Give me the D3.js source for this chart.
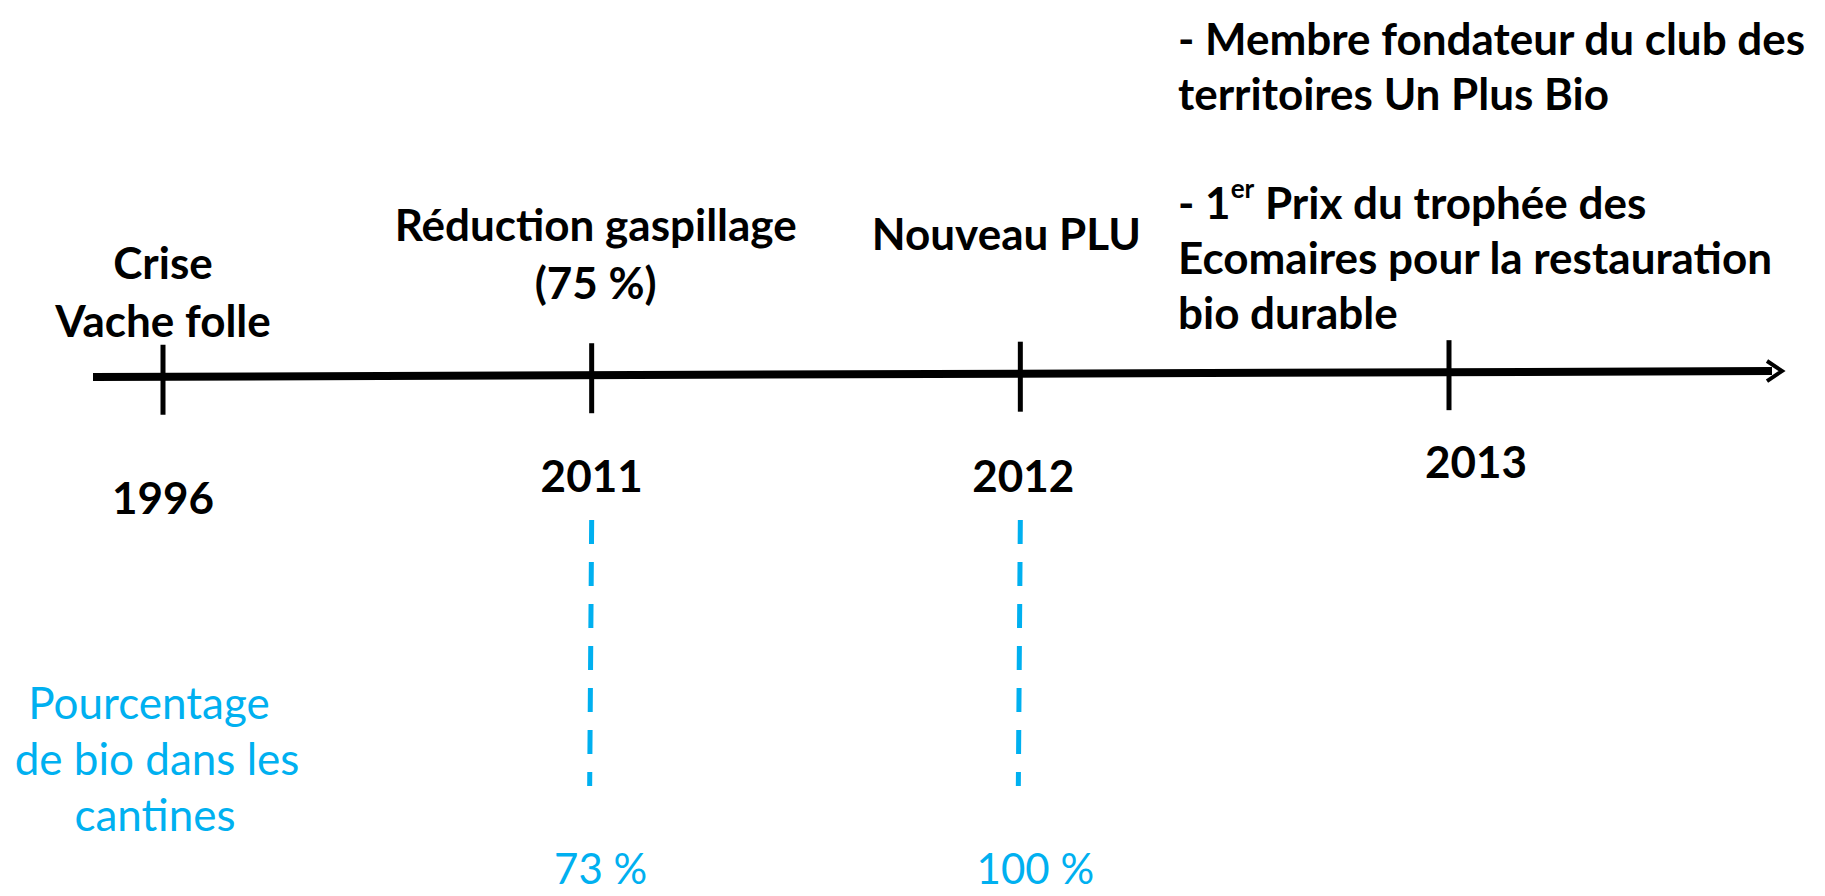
<!DOCTYPE html>
<html>
<head>
<meta charset="utf-8">
<script src="https://cdn.jsdelivr.net/npm/d3@7"></script>
<style>
  body { margin: 0; background: #fff; }
  svg { display: block; }
  text { font-family: Lato, "Open Sans", sans-serif; }
</style>
</head>
<body>
<div id="chart"></div>
<script>
// timeline content
const years = ["1996", "2011", "2012", "2013"];
const eventsAbove = [
    ["Crise", "Vache folle"],
    ["Réduction gaspillage", "(75 %)"],
    ["Nouveau PLU"],
    []
];
const notes2013 = [
    "- Membre fondateur du club des",
    "territoires Un Plus Bio",
    "",
    "- 1|er| Prix du trophée des",
    "Ecomaires pour la restauration",
    "bio durable"
];
const bioYears = ["2011", "2012"];
const bioValues = ["73 %", "100 %"];
const bioTitle = ["Pourcentage", "de bio dans les", "cantines"];

const width = 1825, height = 896;
const blue = "#00b0f0";

const svg = d3.select("#chart").append("svg")
    .attr("width", width)
    .attr("height", height);

svg.append("rect").attr("width", width).attr("height", height).attr("fill", "#fff");

const x = d3.scalePoint().domain(years).range([163, 1449]);

// axis drifts up a little to the right, as in the original slide
const axisY = d3.scaleLinear().domain([93, 1778]).range([377, 371]);

// main line + arrow head
svg.append("line")
    .attr("x1", 93).attr("y1", axisY(93))
    .attr("x2", 1772).attr("y2", axisY(1772))
    .attr("stroke", "#000")
    .attr("stroke-width", 8);

svg.append("path")
    .attr("d", `M1767,${axisY(1767) - 10} L1782,${axisY(1782)} L1767,${axisY(1767) + 10}`)
    .attr("fill", "none")
    .attr("stroke", "#000")
    .attr("stroke-width", 4);

// ticks
svg.selectAll(".tick")
    .data(years)
    .enter()
    .append("line")
    .attr("class", "tick")
    .attr("x1", d => x(d)).attr("x2", d => x(d))
    .attr("y1", d => axisY(x(d)) - 32)
    .attr("y2", d => axisY(x(d)) + 38)
    .attr("stroke", "#000")
    .attr("stroke-width", 5);

// year labels (they sit at slightly different heights)
const yearLabelY = [497, 475, 475, 461];
svg.selectAll(".year")
    .data(years)
    .enter()
    .append("text")
    .attr("class", "year")
    .attr("x", (d, i) => x(d) + [0, 0, 3, 27][i])
    .attr("y", (d, i) => yearLabelY[i])
    .attr("text-anchor", "middle")
    .attr("dominant-baseline", "central")
    .attr("font-size", 44)
    .attr("font-weight", "bold")
    .text(d => d);

// event labels above the line
const eventTopY = [262, 224, 233, 0];
const eventDx = [0, 4, -14, 0];
eventsAbove.forEach((lines, i) => {
    svg.append("g")
        .selectAll("text")
        .data(lines)
        .enter()
        .append("text")
        .attr("x", x(years[i]) + eventDx[i])
        .attr("y", (d, j) => eventTopY[i] + j * 58)
        .attr("text-anchor", "middle")
        .attr("dominant-baseline", "central")
        .attr("font-size", 44)
        .attr("font-weight", "bold")
        .text(d => d);
});

// 2013 notes block
const notes = svg.append("g");
notes2013.forEach((line, i) => {
    const t = notes.append("text")
        .attr("x", 1178)
        .attr("y", 38 + i * 54.8)
        .attr("dominant-baseline", "central")
        .attr("font-size", 44)
        .attr("font-weight", "bold");
    line.split("|").forEach((part, k) => {
        if (k % 2 === 1) {
            t.append("tspan").attr("font-size", 26).attr("dy", -14).text(part);
        } else {
            t.append("tspan").attr("dy", k ? 14 : 0).text(part);
        }
    });
});

// organic share in school canteens
svg.selectAll(".bio-line")
    .data(bioYears)
    .enter()
    .append("line")
    .attr("class", "bio-line")
    .attr("x1", d => x(d)).attr("x2", d => x(d) - 2)
    .attr("y1", 520).attr("y2", 786)
    .attr("stroke", blue)
    .attr("stroke-width", 5)
    .attr("stroke-dasharray", "24 18");

svg.selectAll(".bio-value")
    .data(bioValues)
    .enter()
    .append("text")
    .attr("class", "bio-value")
    .attr("x", (d, i) => x(bioYears[i]) + [9, 15][i])
    .attr("y", 868)
    .attr("text-anchor", "middle")
    .attr("dominant-baseline", "central")
    .attr("font-size", 42)
    .attr("fill", blue)
    .text(d => d);

svg.append("g")
    .selectAll("text")
    .data(bioTitle)
    .enter()
    .append("text")
    .attr("x", (d, i) => [149, 157, 155][i])
    .attr("y", (d, i) => 702 + i * 56)
    .attr("text-anchor", "middle")
    .attr("dominant-baseline", "central")
    .attr("font-size", 44)
    .attr("fill", blue)
    .text(d => d);
</script>
</body>
</html>
